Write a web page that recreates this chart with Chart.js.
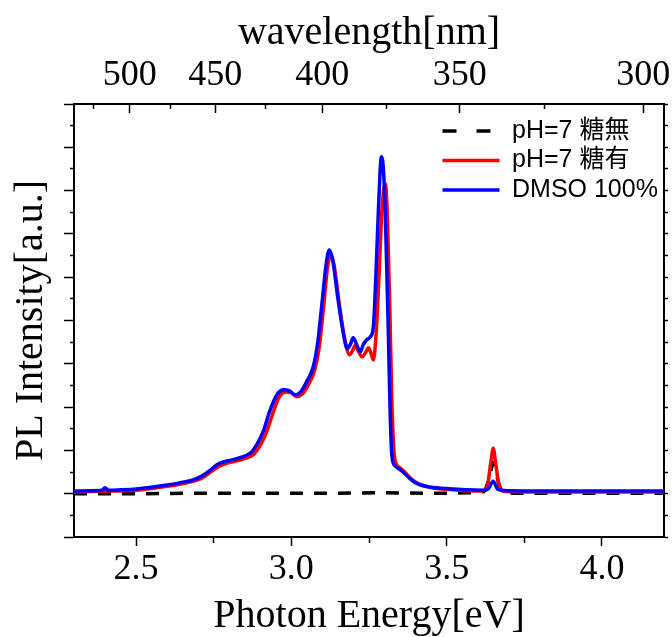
<!DOCTYPE html>
<html>
<head>
<meta charset="utf-8">
<script src="https://cdn.jsdelivr.net/npm/chart.js@4.4.1/dist/chart.umd.min.js"></script>
<style>
  html, body { margin: 0; padding: 0; background: #fff; }
  #wrap { width: 672px; height: 637px; }
</style>
</head>
<body>
<div id="wrap"><canvas id="plChart"></canvas></div>
<script>
const HC = 1239.84; // eV * nm

const seriesLabels = ["DMSO 100%", "pH=7 糖有", "pH=7 糖無"];

const blueEnergy = [2.30, 2.35, 2.39, 2.40, 2.41, 2.45, 2.50, 2.55, 2.60, 2.64, 2.68, 2.71, 2.74, 2.76, 2.79, 2.83, 2.87, 2.89, 2.91, 2.93,
  2.955, 2.975, 2.995, 3.013, 3.03, 3.05, 3.07, 3.085, 3.10, 3.112, 3.122, 3.133, 3.15, 3.165, 3.18, 3.19, 3.199, 3.21, 3.222, 3.232,
  3.242, 3.254, 3.264, 3.272, 3.28, 3.29, 3.298, 3.305, 3.312, 3.318, 3.324, 3.333, 3.345, 3.36, 3.38, 3.40, 3.44, 3.50, 3.56, 3.62,
  3.635, 3.65, 3.665, 3.70, 3.80, 3.90, 4.00, 4.10, 4.20];
const blueIntensity = [0.06, 0.07, 0.08, 0.14, 0.08, 0.09, 0.11, 0.15, 0.20, 0.25, 0.31, 0.40, 0.55, 0.67, 0.75, 0.82, 0.95, 1.15, 1.45, 1.90,
  2.30, 2.40, 2.37, 2.28, 2.35, 2.60, 2.92, 3.50, 4.50, 5.30, 5.63, 5.40, 4.50, 3.80, 3.35, 3.45, 3.60, 3.45, 3.28, 3.45,
  3.55, 3.62, 3.85, 5.00, 6.50, 7.78, 7.30, 5.80, 3.80, 1.90, 0.85, 0.65, 0.58, 0.50, 0.36, 0.25, 0.16, 0.12, 0.09, 0.08,
  0.12, 0.29, 0.10, 0.07, 0.06, 0.06, 0.06, 0.06, 0.06];

const redEnergy = [2.30, 2.40, 2.50, 2.55, 2.60, 2.64, 2.68, 2.71, 2.74, 2.77, 2.80, 2.84, 2.88, 2.90, 2.92, 2.94, 2.962, 2.982, 3.00, 3.018,
  3.035, 3.055, 3.075, 3.09, 3.105, 3.116, 3.126, 3.137, 3.155, 3.17, 3.187, 3.197, 3.205, 3.215, 3.228, 3.238, 3.248, 3.256, 3.264, 3.272,
  3.282, 3.292, 3.303, 3.31, 3.317, 3.323, 3.33, 3.337, 3.35, 3.365, 3.385, 3.41, 3.45, 3.50, 3.56, 3.61, 3.63, 3.642, 3.65, 3.658,
  3.67, 3.69, 3.80, 4.00, 4.20];
const redIntensity = [0.04, 0.06, 0.08, 0.12, 0.17, 0.22, 0.28, 0.35, 0.50, 0.64, 0.72, 0.79, 0.92, 1.12, 1.42, 1.85, 2.25, 2.35, 2.33, 2.24,
  2.30, 2.52, 2.85, 3.40, 4.40, 5.20, 5.50, 5.30, 4.35, 3.65, 3.21, 3.30, 3.42, 3.30, 3.16, 3.25, 3.37, 3.25, 3.09, 3.60,
  5.00, 6.60, 7.15, 6.20, 4.30, 2.30, 1.00, 0.70, 0.60, 0.50, 0.35, 0.23, 0.14, 0.10, 0.07, 0.06, 0.15, 0.70, 1.05, 0.70,
  0.15, 0.05, 0.04, 0.04, 0.04];

const blackEnergy = [2.30, 2.50, 2.70, 2.90, 3.10, 3.30, 3.45, 3.58, 3.62, 3.64, 3.65, 3.66, 3.68, 3.75, 3.90, 4.05, 4.20];
const blackIntensity = [0.00, 0.00, 0.01, 0.01, 0.01, 0.02, 0.01, 0.02, 0.05, 0.45, 0.72, 0.45, 0.04, 0.01, 0.01, 0.01, 0.01];

// top axis: wavelength ticks (nm), only some get a label
const wavelengthTicks = [525, 500, 475, 450, 425, 400, 375, 350, 325, 300];
const wavelengthLabels = [500, 450, 400, 350, 300];

const toPoints = (xs, ys) => xs.map((x, i) => ({ x: x, y: ys[i] }));
const onStep = (v, step) => Math.abs(v / step - Math.round(v / step)) < 1e-6;

const serif = "'Liberation Serif', 'Times New Roman', serif";
const sans = "'Liberation Sans', 'Noto Sans CJK JP', sans-serif";

// move the legend into the plot, top right
const legendInside = {
  id: "legendInside",
  afterLayout(chart) {
    const lg = chart.legend;
    lg.left = 438;
    lg.top = 114;
    lg.right = 672;
    lg.bottom = 300;
  },
};

// horizontal axes: no extra room for the end labels
const noSidePadding = (s) => {
  s.paddingLeft = 0;
  s.paddingRight = 0;
};

const lineOpts = {
  pointRadius: 0,
  borderWidth: 3.5,
  fill: false,
  cubicInterpolationMode: "monotone",
};

new Chart(document.getElementById("plChart"), {
  type: "line",
  data: {
    datasets: [
      { ...lineOpts, label: seriesLabels[0], data: toPoints(blueEnergy, blueIntensity), borderColor: "#0000ff", backgroundColor: "#0000ff" },
      { ...lineOpts, label: seriesLabels[1], data: toPoints(redEnergy, redIntensity), borderColor: "#ff0000", backgroundColor: "#ff0000" },
      { ...lineOpts, label: seriesLabels[2], data: toPoints(blackEnergy, blackIntensity), borderColor: "#000000", backgroundColor: "#000000", borderDash: [13, 11] },
    ],
  },
  options: {
    responsive: true,
    maintainAspectRatio: false,
    animation: false,
    layout: { padding: 0 },
    plugins: {
      tooltip: { enabled: false },
      legend: {
        position: "left",
        align: "start",
        reverse: true,
        maxWidth: 1,
        labels: {
          usePointStyle: true,
          pointStyle: "line",
          pointStyleWidth: 57,
          padding: 4.5,
          color: "#000",
          font: { family: sans, size: 25 },
          generateLabels: (chart) =>
            Chart.defaults.plugins.legend.labels.generateLabels(chart).map((item) => {
              const ds = chart.data.datasets[item.datasetIndex];
              item.lineDash = ds.borderDash ? [14, 20] : [];
              item.lineWidth = 3.5;
              item.strokeStyle = ds.borderColor;
              return item;
            }),
        },
      },
    },
    scales: {
      x: {
        type: "linear",
        position: "bottom",
        min: 2.3,
        max: 4.2,
        afterFit: (s) => { s.height = 100; noSidePadding(s); },
        border: { color: "#000", width: 2 },
        grid: {
          drawOnChartArea: false,
          tickLength: 9,
          tickColor: "#000",
          tickWidth: 1.5,
          tickBorderDash: (ctx) => (ctx.tick && !onStep(ctx.tick.value, 0.5) ? [5, 100] : []),
        },
        ticks: {
          stepSize: 0.25,
          includeBounds: false,
          autoSkip: false,
          maxRotation: 0,
          padding: 6,
          color: "#000",
          font: { family: serif, size: 36, lineHeight: 1 },
          callback: (v) => (onStep(v, 0.5) ? v.toFixed(1) : ""),
        },
        title: {
          display: true,
          text: "Photon Energy[eV]",
          color: "#000",
          font: { family: serif, size: 40, lineHeight: 1 },
          padding: { top: 0, bottom: 1 },
        },
      },
      x2: {
        type: "linear",
        position: "top",
        min: 2.3,
        max: 4.2,
        afterFit: (s) => { s.height = 104; noSidePadding(s); },
        afterBuildTicks: (s) => { s.ticks = wavelengthTicks.map((w) => ({ value: HC / w })); },
        border: { color: "#000", width: 2 },
        grid: {
          drawOnChartArea: false,
          tickLength: -9,
          tickColor: "#000",
          tickWidth: 1.5,
          tickBorderDash: (ctx) => {
            if (!ctx.tick) return [];
            const w = Math.round(HC / ctx.tick.value);
            return wavelengthLabels.includes(w) ? [] : [0, 4, 100];
          },
        },
        ticks: {
          autoSkip: false,
          maxRotation: 0,
          padding: 19,
          color: "#000",
          font: { family: serif, size: 36, lineHeight: 1 },
          callback: (v, i) => (wavelengthLabels.includes(wavelengthTicks[i]) ? String(wavelengthTicks[i]) : ""),
        },
        title: {
          display: true,
          text: "wavelength[nm]",
          color: "#000",
          font: { family: serif, size: 40, lineHeight: 1 },
          padding: { top: 13, bottom: 0 },
        },
      },
      y: {
        type: "linear",
        position: "left",
        min: -1,
        max: 9,
        afterFit: (s) => { s.width = 73; },
        border: { color: "#000", width: 2 },
        grid: {
          drawOnChartArea: false,
          tickLength: 10,
          tickColor: "#000",
          tickWidth: 1.5,
          tickBorderDash: (ctx) => (ctx.tick && !onStep(ctx.tick.value, 1) ? [0, 6, 100] : []),
        },
        ticks: { stepSize: 0.5, display: false },
        title: {
          display: true,
          text: "PL Intensity[a.u.]",
          color: "#000",
          font: { family: serif, size: 40, lineHeight: 1 },
          padding: { top: 10, bottom: 0 },
        },
      },
      y2: {
        type: "linear",
        position: "right",
        min: -1,
        max: 9,
        afterFit: (s) => { s.width = 8; },
        border: { color: "#000", width: 2 },
        grid: { drawOnChartArea: false, tickLength: 4, tickColor: "#000", tickWidth: 1.5 },
        ticks: { stepSize: 0.5, display: false },
      },
    },
  },
  plugins: [legendInside],
});
</script>
</body>
</html>
